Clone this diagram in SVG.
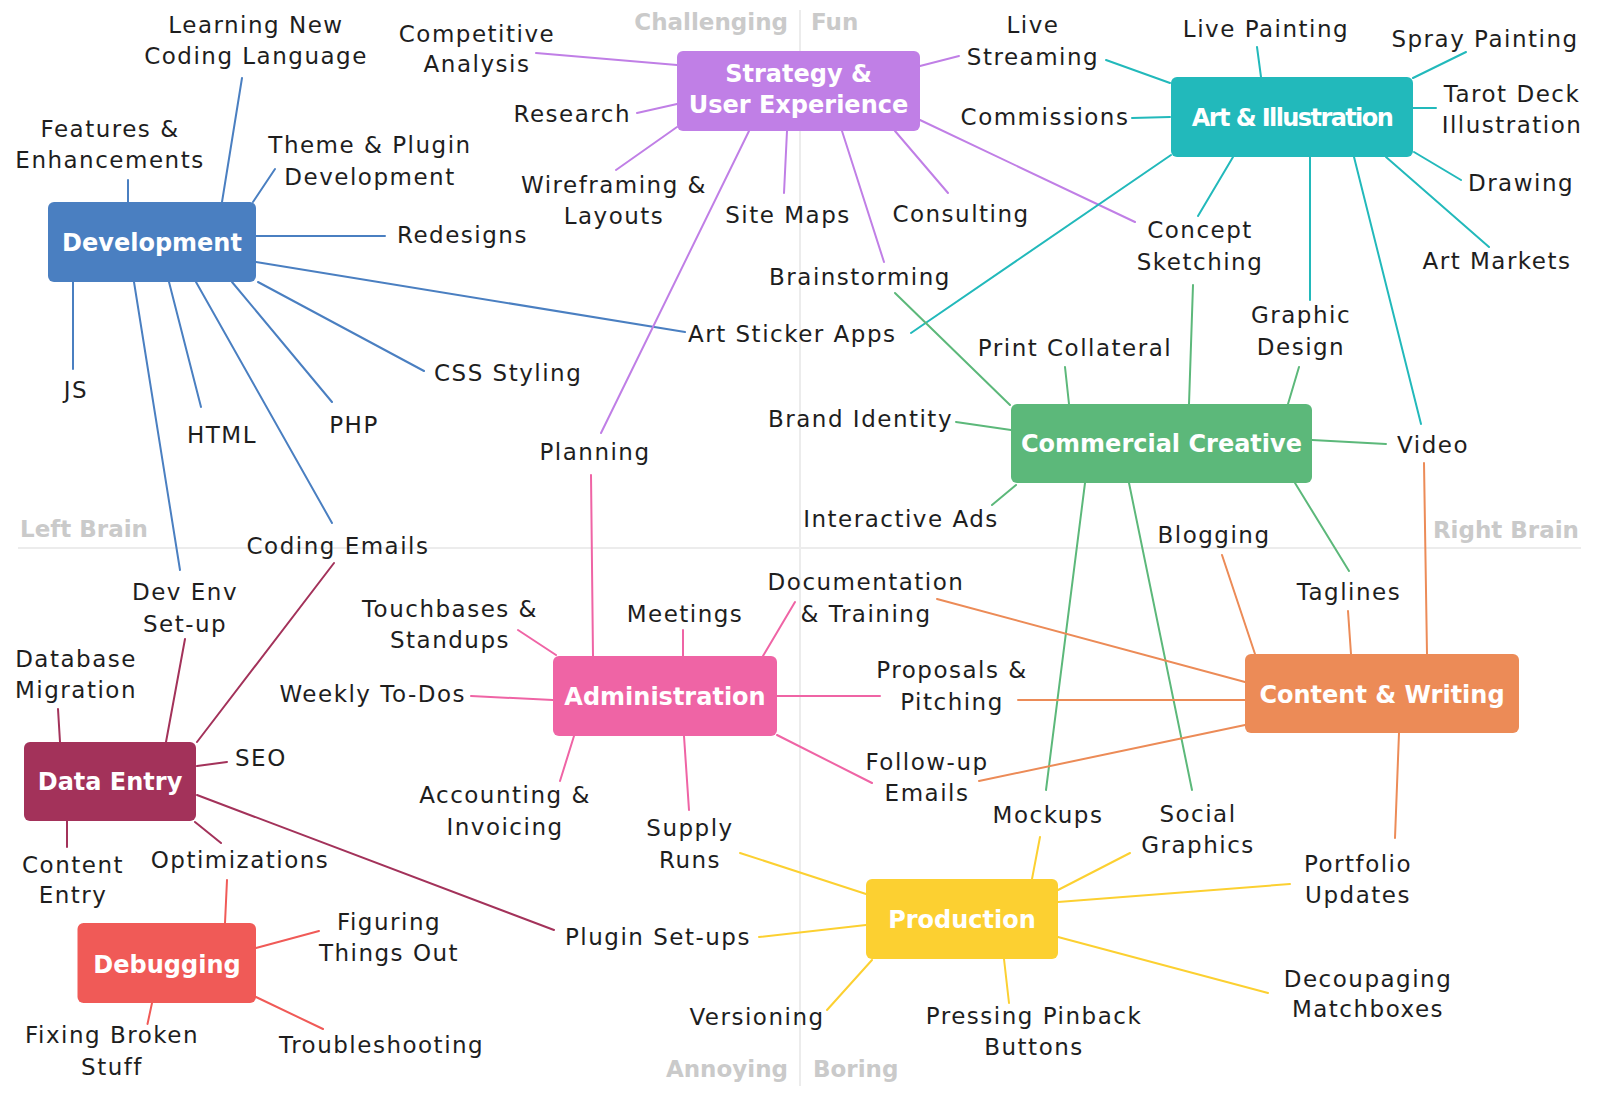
<svg xmlns="http://www.w3.org/2000/svg" width="1600" height="1096" viewBox="0 0 1600 1096">
<style>
.bg{fill:#ffffff}
.div{stroke:#ececec;stroke-width:2;fill:none}
.q{font-family:"DejaVu Sans",sans-serif;font-weight:bold;font-size:23px;fill:#cacaca}
.lbl{font-family:"DejaVu Sans",sans-serif;font-size:23px;letter-spacing:1.5px;fill:#1e1e1e}
.mid{text-anchor:middle}
.end{text-anchor:end}
.hub{font-family:"DejaVu Sans",sans-serif;font-weight:bold;font-size:24px;fill:#ffffff;text-anchor:middle}
#connectors path{fill:none;stroke-width:2;stroke-linecap:round}
.c-dev{stroke:#4a7fc1}
.c-str{stroke:#c07fe6}
.c-art{stroke:#22b9bb}
.c-com{stroke:#5cb87a}
.c-con{stroke:#ec8b57}
.c-adm{stroke:#ef64a5}
.c-dat{stroke:#a3325a}
.c-dbg{stroke:#f05a57}
.c-pro{stroke:#fcd031}
</style>
<rect class="bg" x="0" y="0" width="1600" height="1096"/>
<g id="quadrants">
<line class="div" x1="800" y1="10" x2="800" y2="1086"/>
<line class="div" x1="18" y1="548" x2="1581" y2="548"/>
<text class="q end" x="788" y="30">Challenging</text>
<text class="q" x="811" y="30">Fun</text>
<text class="q" x="20" y="537">Left Brain</text>
<text class="q end" x="1579" y="538">Right Brain</text>
<text class="q end" x="788" y="1077">Annoying</text>
<text class="q" x="813" y="1077">Boring</text>
</g>
<g id="connectors">
<path class="c-dev" d="M128,180 L128,202 M242,78 L222,202 M275,169 L253,202 M256,236 L385,236 M256,262 L685,332 M73,282 L73,369 M134,282 L180,570 M169,282 L201,407 M196,282 L332,523 M232,282 L332,402 M258,282 L424,371"/>
<path class="c-str" d="M677,65 L536,53 M677,104 L637,113 M677,127 L616,170 M749,131 L601,433 M787,131 L784,193 M842,131 L884,262 M895,131 L948,193 M920,120 L1135,222 M920,66 L959,56"/>
<path class="c-art" d="M1170,83 L1106,60 M1170,117 L1132,118 M1261,77 L1257,47 M1413,78 L1466,52 M1413,108 L1436,108 M1414,152 L1461,180 M1386,157 L1489,247 M1233,157 L1198,216 M1171,155 L911,333 M1310,157 L1310,300 M1354,157 L1421,424"/>
<path class="c-com" d="M895,293 L1010,405 M1065,367 L1069,404 M1193,285 L1189,404 M1299,367 L1288,404 M1312,440 L1386,444 M956,422 L1011,430 M1016,485 L992,505 M1085,483 L1046,790 M1129,483 L1192,790 M1295,483 L1349,571"/>
<path class="c-con" d="M1255,654 L1222,555 M1351,654 L1348,611 M1427,654 L1424,463 M1245,682 L937,599 M1245,700 L1018,700 M1245,725 L979,781 M1399,733 L1395,838"/>
<path class="c-adm" d="M593,656 L591,475 M556,655 L518,630 M683,656 L683,630 M763,656 L795,602 M553,700 L471,696 M777,696 L880,696 M777,735 L872,783 M574,736 L560,781 M684,736 L689,810"/>
<path class="c-dat" d="M166,742 L185,639 M60,742 L58,709 M197,742 L334,563 M197,766 L227,762 M197,795 L554,930 M67,821 L67,847 M195,822 L221,843"/>
<path class="c-dbg" d="M225,923 L227,880 M256,948 L319,931 M256,997 L323,1029 M152,1003 L147.5,1024"/>
<path class="c-pro" d="M740,853 L866,894 M759,937 L866,925 M872,960 L827,1010 M1004,959 L1009,1003 M1032,879 L1040,837 M1058,890 L1130,853 M1058,902 L1290,884 M1058,937 L1268,993"/>
</g>
<g id="node-development"><rect x="48" y="202" width="208" height="80" rx="6" fill="#4a7fc1"/><text class="hub" x="152" y="251">Development</text></g>
<g id="node-strategy"><rect x="677" y="51" width="243" height="80" rx="6" fill="#c07fe6"/><text class="hub" x="798.5" y="82">Strategy &amp;</text><text class="hub" x="798.5" y="113">User Experience</text></g>
<g id="node-art"><rect x="1171" y="77" width="242" height="80" rx="6" fill="#22b9bb"/><text class="hub" x="1292" y="126" style="letter-spacing:-1.6px">Art &amp; Illustration</text></g>
<g id="node-commercial"><rect x="1011" y="404" width="301" height="79" rx="6" fill="#5cb87a"/><text class="hub" x="1161.5" y="452">Commercial Creative</text></g>
<g id="node-content"><rect x="1245" y="654" width="274" height="79" rx="6" fill="#ec8b57"/><text class="hub" x="1382" y="703">Content &amp; Writing</text></g>
<g id="node-admin"><rect x="553" y="656" width="224" height="80" rx="6" fill="#ef64a5"/><text class="hub" x="665" y="705">Administration</text></g>
<g id="node-dataentry"><rect x="24" y="742" width="172" height="79" rx="6" fill="#a3325a"/><text class="hub" x="110" y="790">Data Entry</text></g>
<g id="node-debugging"><rect x="77.5" y="923" width="178.5" height="80" rx="6" fill="#f05a57"/><text class="hub" x="167" y="973">Debugging</text></g>
<g id="node-production"><rect x="866" y="879" width="192" height="80" rx="6" fill="#fcd031"/><text class="hub" x="962" y="928">Production</text></g>
<g id="labels">
<g id="l-features"><text class="lbl mid" x="110" y="137">Features &amp;</text><text class="lbl mid" x="110" y="168">Enhancements</text></g>
<g id="l-learning"><text class="lbl mid" x="256" y="33">Learning New</text><text class="lbl mid" x="256" y="64">Coding Language</text></g>
<g id="l-theme"><text class="lbl mid" x="370" y="153">Theme &amp; Plugin</text><text class="lbl mid" x="370" y="185">Development</text></g>
<g id="l-redesigns"><text class="lbl" x="397" y="243">Redesigns</text></g>
<g id="l-artsticker"><text class="lbl" x="688" y="342">Art Sticker Apps</text></g>
<g id="l-js"><text class="lbl mid" x="76" y="398">JS</text></g>
<g id="l-html"><text class="lbl mid" x="222" y="443">HTML</text></g>
<g id="l-php"><text class="lbl mid" x="354" y="433">PHP</text></g>
<g id="l-css"><text class="lbl" x="434" y="381">CSS Styling</text></g>
<g id="l-codingemails"><text class="lbl mid" x="338" y="554">Coding Emails</text></g>
<g id="l-devenv"><text class="lbl mid" x="185" y="600">Dev Env</text><text class="lbl mid" x="185" y="632">Set-up</text></g>
<g id="l-competitive"><text class="lbl mid" x="477" y="42">Competitive</text><text class="lbl mid" x="477" y="72">Analysis</text></g>
<g id="l-research"><text class="lbl end" x="631" y="122">Research</text></g>
<g id="l-wireframing"><text class="lbl mid" x="614" y="193">Wireframing &amp;</text><text class="lbl mid" x="614" y="224">Layouts</text></g>
<g id="l-planning"><text class="lbl mid" x="595" y="460">Planning</text></g>
<g id="l-sitemaps"><text class="lbl mid" x="788" y="223">Site Maps</text></g>
<g id="l-brainstorming"><text class="lbl mid" x="860" y="285">Brainstorming</text></g>
<g id="l-consulting"><text class="lbl mid" x="961" y="222">Consulting</text></g>
<g id="l-concept"><text class="lbl mid" x="1200" y="238">Concept</text><text class="lbl mid" x="1200" y="270">Sketching</text></g>
<g id="l-livestreaming"><text class="lbl mid" x="1033" y="33">Live</text><text class="lbl mid" x="1033" y="65">Streaming</text></g>
<g id="l-commissions"><text class="lbl mid" x="1045" y="125">Commissions</text></g>
<g id="l-livepainting"><text class="lbl mid" x="1266" y="37">Live Painting</text></g>
<g id="l-spray"><text class="lbl mid" x="1485" y="47">Spray Painting</text></g>
<g id="l-tarot"><text class="lbl mid" x="1512" y="102">Tarot Deck</text><text class="lbl mid" x="1512" y="133">Illustration</text></g>
<g id="l-drawing"><text class="lbl mid" x="1521" y="191">Drawing</text></g>
<g id="l-artmarkets"><text class="lbl mid" x="1497" y="269">Art Markets</text></g>
<g id="l-graphic"><text class="lbl mid" x="1301" y="323">Graphic</text><text class="lbl mid" x="1301" y="355">Design</text></g>
<g id="l-video"><text class="lbl mid" x="1433" y="453">Video</text></g>
<g id="l-print"><text class="lbl mid" x="1075" y="356">Print Collateral</text></g>
<g id="l-brand"><text class="lbl end" x="953" y="427">Brand Identity</text></g>
<g id="l-interactive"><text class="lbl mid" x="901" y="527">Interactive Ads</text></g>
<g id="l-blogging"><text class="lbl mid" x="1214" y="543">Blogging</text></g>
<g id="l-taglines"><text class="lbl mid" x="1349" y="600">Taglines</text></g>
<g id="l-documentation"><text class="lbl mid" x="866" y="590">Documentation</text><text class="lbl mid" x="866" y="622">&amp; Training</text></g>
<g id="l-proposals"><text class="lbl mid" x="952" y="678">Proposals &amp;</text><text class="lbl mid" x="952" y="710">Pitching</text></g>
<g id="l-followup"><text class="lbl mid" x="927" y="770">Follow-up</text><text class="lbl mid" x="927" y="801">Emails</text></g>
<g id="l-portfolio"><text class="lbl mid" x="1358" y="872">Portfolio</text><text class="lbl mid" x="1358" y="903">Updates</text></g>
<g id="l-touchbases"><text class="lbl mid" x="450" y="617">Touchbases &amp;</text><text class="lbl mid" x="450" y="648">Standups</text></g>
<g id="l-meetings"><text class="lbl mid" x="685" y="622">Meetings</text></g>
<g id="l-weekly"><text class="lbl end" x="466" y="702">Weekly To-Dos</text></g>
<g id="l-accounting"><text class="lbl mid" x="505" y="803">Accounting &amp;</text><text class="lbl mid" x="505" y="835">Invoicing</text></g>
<g id="l-supply"><text class="lbl mid" x="690" y="836">Supply</text><text class="lbl mid" x="690" y="868">Runs</text></g>
<g id="l-database"><text class="lbl mid" x="76" y="667">Database</text><text class="lbl mid" x="76" y="698">Migration</text></g>
<g id="l-seo"><text class="lbl" x="235" y="766">SEO</text></g>
<g id="l-plugin"><text class="lbl" x="565" y="945">Plugin Set-ups</text></g>
<g id="l-contententry"><text class="lbl mid" x="73" y="873">Content</text><text class="lbl mid" x="73" y="903">Entry</text></g>
<g id="l-optimizations"><text class="lbl mid" x="240" y="868">Optimizations</text></g>
<g id="l-figuring"><text class="lbl mid" x="389" y="930">Figuring</text><text class="lbl mid" x="389" y="961">Things Out</text></g>
<g id="l-troubleshooting"><text class="lbl" x="279" y="1053">Troubleshooting</text></g>
<g id="l-fixing"><text class="lbl mid" x="112" y="1043">Fixing Broken</text><text class="lbl mid" x="112" y="1075">Stuff</text></g>
<g id="l-versioning"><text class="lbl mid" x="757" y="1025">Versioning</text></g>
<g id="l-pressing"><text class="lbl mid" x="1034" y="1024">Pressing Pinback</text><text class="lbl mid" x="1034" y="1055">Buttons</text></g>
<g id="l-mockups"><text class="lbl mid" x="1048" y="823">Mockups</text></g>
<g id="l-social"><text class="lbl mid" x="1198" y="822">Social</text><text class="lbl mid" x="1198" y="853">Graphics</text></g>
<g id="l-decoupaging"><text class="lbl mid" x="1368" y="987">Decoupaging</text><text class="lbl mid" x="1368" y="1017">Matchboxes</text></g>
</g>
</svg>
